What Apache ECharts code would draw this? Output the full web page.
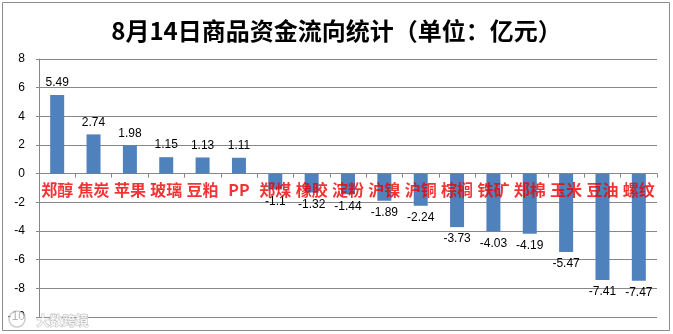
<!DOCTYPE html>
<html>
<head>
<meta charset="utf-8">
<script src="https://cdn.jsdelivr.net/npm/echarts@6/dist/echarts.min.js"></script>
<style>
html,body{margin:0;padding:0;background:#fff;}
#chart{width:673px;height:334px;}
</style>
</head>
<body>
<div id="chart"></div>
<script>
// Commodity fund flows (100 million yuan) for August 14
const categories = ['郑醇','焦炭','苹果','玻璃','豆粕','PP','郑煤','橡胶','淀粉','沪镍','沪铜','棕榈','铁矿','郑棉','玉米','豆油','螺纹'];
const flows = [5.49, 2.74, 1.98, 1.15, 1.13, 1.11, -1.1, -1.32, -1.44, -1.89, -2.24, -3.73, -4.03, -4.19, -5.47, -7.41, -7.47];
const yTicks = { min: -10, max: 8, interval: 2 };

const chart = echarts.init(document.getElementById('chart'));
const gridColor = '#878787';

chart.setOption({
  animation: false,
  backgroundColor: '#fff',
  title: {
    text: '8月14日商品资金流向统计（单位：亿元）',
    left: 'center',
    top: 14,
    textStyle: {
      fontFamily: '"Noto Sans CJK SC", sans-serif',
      fontSize: 24,
      fontWeight: 'bold',
      color: '#000'
    }
  },
  graphic: [
    {
      type: 'rect',
      shape: { x: 2.5, y: 2.5, width: 667, height: 328 },
      style: { fill: 'none', stroke: '#8c8c8c', lineWidth: 1 },
      silent: true
    },
    {
      type: 'circle',
      shape: { cx: 17, cy: 319, r: 8 },
      style: { fill: 'rgba(255,255,255,0.7)', stroke: 'rgba(170,170,170,0.6)', lineWidth: 1.5 },
      silent: true,
      z: 10
    },
    {
      type: 'text',
      left: 36,
      top: 313,
      z: 10,
      style: {
        text: '大数跨境',
        fill: 'rgba(255,255,255,0.8)',
        stroke: 'rgba(160,160,160,0.7)',
        lineWidth: 1,
        font: 'bold 13px "Noto Sans CJK SC", sans-serif'
      },
      silent: true
    }
  ],
  grid: { left: 39, right: 16, top: 59, bottom: 17, containLabel: false },
  xAxis: {
    type: 'category',
    data: categories,
    axisLine: { onZero: true, lineStyle: { color: gridColor, width: 1 } },
    axisTick: { show: true, length: 4, lineStyle: { color: gridColor } },
    axisLabel: { show: false }
  },
  yAxis: {
    type: 'value',
    min: yTicks.min,
    max: yTicks.max,
    interval: yTicks.interval,
    axisLine: { show: true, lineStyle: { color: gridColor, width: 1 } },
    axisTick: { show: true, length: 3, lineStyle: { color: gridColor } },
    splitLine: { show: true, lineStyle: { color: gridColor, width: 1 } },
    axisLabel: {
      margin: 14,
      color: '#000',
      fontSize: 12,
      fontFamily: '"Liberation Sans", sans-serif'
    }
  },
  series: [
    {
      type: 'bar',
      data: flows.map(v => ({
        value: v,
        label: { position: v >= 0 ? 'top' : 'bottom' }
      })),
      barWidth: 14,
      itemStyle: { color: '#4f81bd' },
      label: {
        show: true,
        distance: 6,
        color: '#000',
        fontSize: 12,
        fontFamily: '"Liberation Sans", sans-serif'
      },
      z: 2
    },
    {
      // category names sit just under the zero line, over the bars
      type: 'scatter',
      data: categories.map(c => [c, 0]),
      symbolSize: 0,
      silent: true,
      z: 5,
      label: {
        show: true,
        position: 'bottom',
        distance: 8,
        formatter: p => p.value[0],
        color: '#f00000',
        fontWeight: 'bold',
        fontSize: 16,
        fontFamily: '"Noto Sans CJK SC", sans-serif'
      }
    }
  ]
});
</script>
</body>
</html>
